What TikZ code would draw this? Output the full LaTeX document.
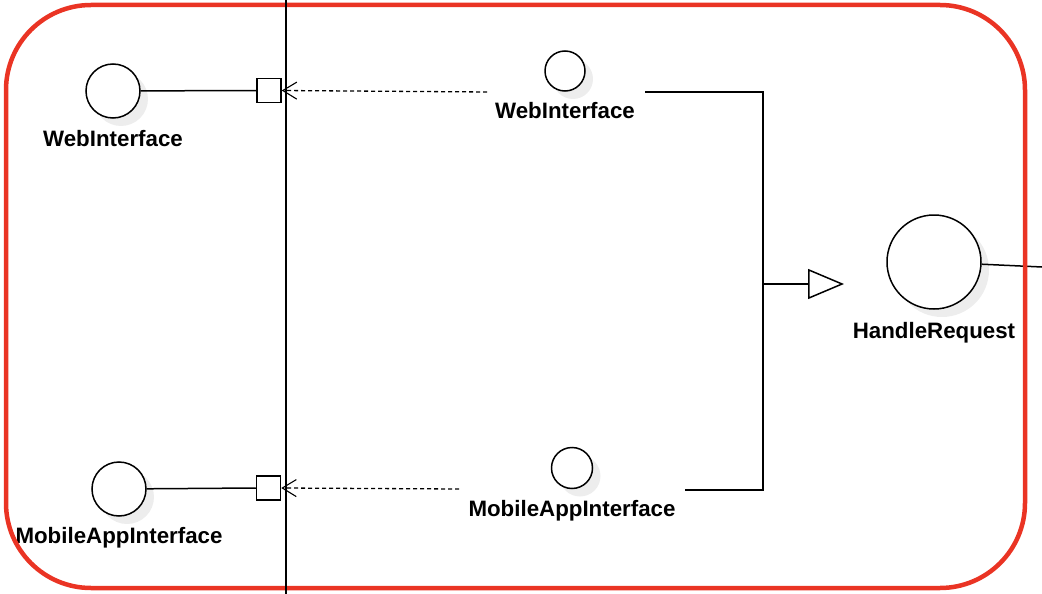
\documentclass[tikz,border=0pt]{standalone}
\usepackage{fontspec}
\setmainfont{Liberation Sans}
\usetikzlibrary{arrows.meta,shadows}
\definecolor{framered}{RGB}{234,52,36}
\begin{document}
\begin{tikzpicture}[x=1pt,y=-1pt,
  line/.style={draw=black,line width=1.5pt},
  iface/.style={circle,draw=black,line width=1.5pt,fill=white,inner sep=0pt,
    drop shadow={shadow xshift=8pt,shadow yshift=-8pt,fill=black!14,opacity=0.5}},
  port/.style={rectangle,draw=black,line width=1.5pt,fill=white,inner sep=0pt,minimum size=24pt},
  lbl/.style={anchor=base,inner sep=0pt,font=\fontsize{22.3}{26}\selectfont\bfseries},
  dep/.style={line,line width=1.3pt,dash pattern=on 4pt off 3pt,-{Straight Barb[length=14pt,width=17pt,line width=1.1pt]}},
  gen/.style={line,-{Triangle[open,length=36pt,width=30pt,line width=1.5pt]}}
]
\useasboundingbox (0,0) rectangle (1042,594);

% circles and labels
\node[iface,minimum size=54pt] (c1) at (113,91) {};
\node[lbl] (l1) at (113,146) {WebInterface};
\node[iface,minimum size=54pt] (c4) at (119,489) {};
\node[lbl] (l4) at (119,543) {MobileAppInterface};
\node[iface,minimum size=40pt] (c2) at (565,71) {};
\node[lbl] (l2) at (565,118) {WebInterface};
\node[iface,minimum size=41pt] (c5) at (572,468) {};
\node[lbl] (l5) at (572,516) {MobileAppInterface};
\node[iface,minimum size=94pt] (c3) at (934,262) {};
\node[lbl] (l3) at (934,338) {HandleRequest};

% ports
\node[port] (p1) at (269,90.5) {};
\node[port] (p2) at (268.5,488) {};

% coordinates
\coordinate (d1) at (487,92);
\coordinate (d2) at (459,489);
\coordinate (b1) at (645,92);
\coordinate (b2) at (763,92);
\coordinate (b3) at (763,490);
\coordinate (b4) at (685,490);
\coordinate (j) at (763,284);
\coordinate (tip) at (844,284);
\coordinate (e) at (1042,267);
\coordinate (vt) at (286,0);
\coordinate (vb) at (286,594);

% connectors
\draw[line] (c1) -- (p1.west);
\draw[line] (c4) -- (p2.west);
\draw[dep] (d1) -- (p1.east);
\draw[dep] (d2) -- (p2.east);
\draw[line] (b1) -- (b2) -- (b3) -- (b4);
\draw[gen] (j) -- (tip);
\draw[line] (c3) -- (e);

% frame
\draw[framered,line width=4.5pt,rounded corners=85pt] (6,5) rectangle (1025,588);

% boundary line
\draw[line] (vt) -- (vb);
\end{tikzpicture}
\end{document}
